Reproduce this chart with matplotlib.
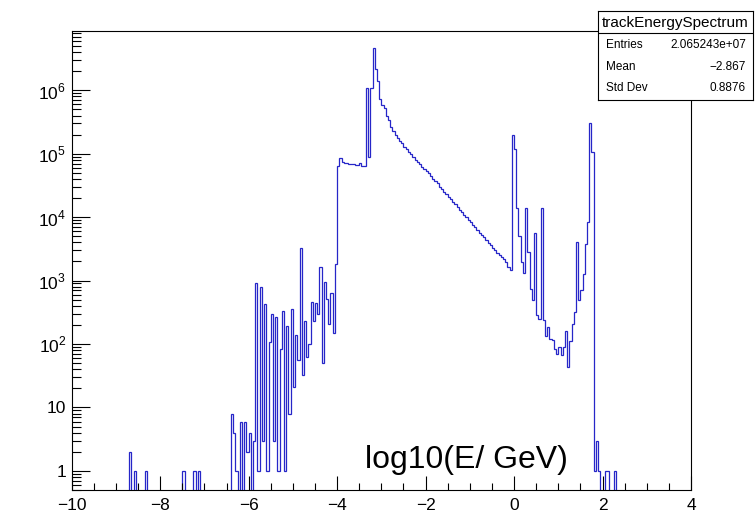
import numpy as np
import matplotlib
matplotlib.use("Agg")
import matplotlib.pyplot as plt
from matplotlib.ticker import FixedLocator, NullFormatter

plt.rcParams["font.family"] = ["Liberation Sans", "DejaVu Sans"]
plt.rcParams["mathtext.fontset"] = "custom"
plt.rcParams["mathtext.rm"] = "Liberation Sans"
plt.rcParams["axes.unicode_minus"] = True

# histogram binning (log10 E / GeV)
x_min, x_max, n_bins = -10.0, 4.0, 280

# isolated low energy entries: lower bin edge, count
lone_edges = [-8.70, -8.60, -8.35, -7.50, -7.25, -7.15]
lone_counts = [2, 1, 1, 1, 1, 1]

# spiky rise from -6.4 to -4.0
rise_start = -6.40
rise_counts = [8, 4, 1, 0, 6, 0, 6, 2, 4, 0, 3, 930, 1, 780, 3, 430, 1, 106, 300, 3,
               265, 1, 84, 336, 1, 190, 8, 355, 21, 140, 57, 3300, 33, 228, 63, 100,
               466, 228, 440, 300, 1650, 50, 960, 510, 208, 630, 150, 1800]

# plateau -4.0 .. -3.2
plateau_start = -4.00
plateau_counts = [63000, 87000, 74000, 72000, 71000, 70000, 69000, 68000, 67000,
                  66000, 71000, 64000, 63000, 1.1e6, 9.0e4, 1.1e6]

# main peak and falling slope -3.2 .. -0.05
decay_start = -3.20
decay_counts = [4.7e6, 2.2e6, 1.4e6, 7.4e5, 5.8e5, 5.2e5, 3.9e5, 3.4e5, 2.6e5, 2.3e5,
                1.96e5, 1.74e5, 1.6e5, 1.45e5, 1.28e5, 1.2e5, 1.07e5, 9.8e4, 8.9e4, 8.1e4,
                7.4e4, 6.8e4, 6.2e4, 5.7e4, 5.3e4, 4.9e4, 4.4e4, 4.0e4, 3.7e4, 3.4e4,
                3.0e4, 27500, 25000, 23000, 21000, 19200, 17500, 16000, 14500, 13200,
                12000, 11000, 10000, 9100, 8300, 7600, 6900, 6300, 5700, 5200,
                4800, 4350, 3950, 3600, 3300, 3000, 2750, 2500, 2350, 2200,
                1950, 1650, 1450]

# high energy part -0.05 .. 2.35
high_start = -0.05
high_counts = [1.95e5, 1.2e5, 14000, 5000, 1950, 1300, 14000, 2800, 750, 500,
               5600, 290, 250, 14000, 235, 135, 183, 120, 115, 83,
               70, 90, 66, 89, 163, 43, 113, 208, 315, 4000,
               490, 700, 1280, 3800, 8300, 3.0e5, 1.07e5, 1, 3, 1,
               0, 0, 1, 1, 0, 0, 1]

stats_title = "trackEnergySpectrum"
stats_rows = [("Entries", "2.065243e+07"), ("Mean", "\u22122.867"), ("Std Dev", "0.8876")]

width = (x_max - x_min) / n_bins
edges = np.linspace(x_min, x_max, n_bins + 1)
counts = np.zeros(n_bins)
for e, c in zip(lone_edges, lone_counts):
    counts[int(round((e - x_min) / width))] = c
for start, seg in [(rise_start, rise_counts), (plateau_start, plateau_counts),
                   (decay_start, decay_counts), (high_start, high_counts)]:
    i0 = int(round((start - x_min) / width))
    counts[i0:i0 + len(seg)] = seg

# empty bins drop below the axis like ROOT does on a log scale
draw_counts = np.where(counts > 0, counts, 1e-3)

W, H = 756, 519
fig = plt.figure(figsize=(W / 100, H / 100), dpi=100)
ax = fig.add_axes([71.7 / W, 1 - 490 / H, (691 - 71.7) / W, (490 - 31) / H])

ax.stairs(draw_counts, edges, baseline=None, color="#2626c8", lw=0.9)

ax.set_yscale("log")
ax.set_xlim(x_min, x_max)
ax.set_ylim(0.5, 8.6e6)

ax.xaxis.set_major_locator(FixedLocator(np.arange(-10, 5, 2)))
ax.xaxis.set_minor_locator(FixedLocator(np.arange(-10, 4.01, 0.5)))
ax.set_xticklabels(["\u221210", "\u22128", "\u22126", "\u22124", "\u22122", "0", "2", "4"])

decades = [1, 10, 1e2, 1e3, 1e4, 1e5, 1e6]
ax.yaxis.set_major_locator(FixedLocator(decades))
ax.set_yticklabels(["1", "10", "$10^{2}$", "$10^{3}$", "$10^{4}$", "$10^{5}$", "$10^{6}$"])
minors = [m * 10.0 ** d for d in range(-1, 7) for m in range(2, 10)]
ax.yaxis.set_minor_locator(FixedLocator(minors))
ax.yaxis.set_minor_formatter(NullFormatter())

ax.tick_params(which="both", direction="in", top=False, right=False, labelsize=12.5,
               width=0.8, color="black")
ax.tick_params(axis="x", which="major", length=10, pad=6)
ax.tick_params(axis="x", which="minor", length=5)
ax.tick_params(axis="y", which="major", length=13, pad=4)
ax.tick_params(axis="y", which="minor", length=6.5)
for s in ax.spines.values():
    s.set_linewidth(0.8)

ax.text((568 - 71.7) / (691 - 71.7), (490 - 468) / 459, "log10(E/ GeV)",
        transform=ax.transAxes, ha="right", va="baseline", fontsize=23)

# statistics box
box = fig.add_axes([598 / W, 1 - 100 / H, (753 - 598) / W, (100 - 11) / H])
box.set_xlim(0, 155)
box.set_ylim(89, 0)
box.set_xticks([])
box.set_yticks([])
box.set_facecolor("white")
for s in box.spines.values():
    s.set_linewidth(0.8)
box.axhline(22, color="black", lw=0.8)
box.text(77.5, 12, stats_title, ha="center", va="center", fontsize=11)
for k, (name, val) in enumerate(stats_rows):
    y = 34 + k * 21.5
    box.text(8, y, name, ha="left", va="center", fontsize=8.5)
    box.text(148, y, val, ha="right", va="center", fontsize=8.5)

fig.savefig("out.png", dpi=100)
